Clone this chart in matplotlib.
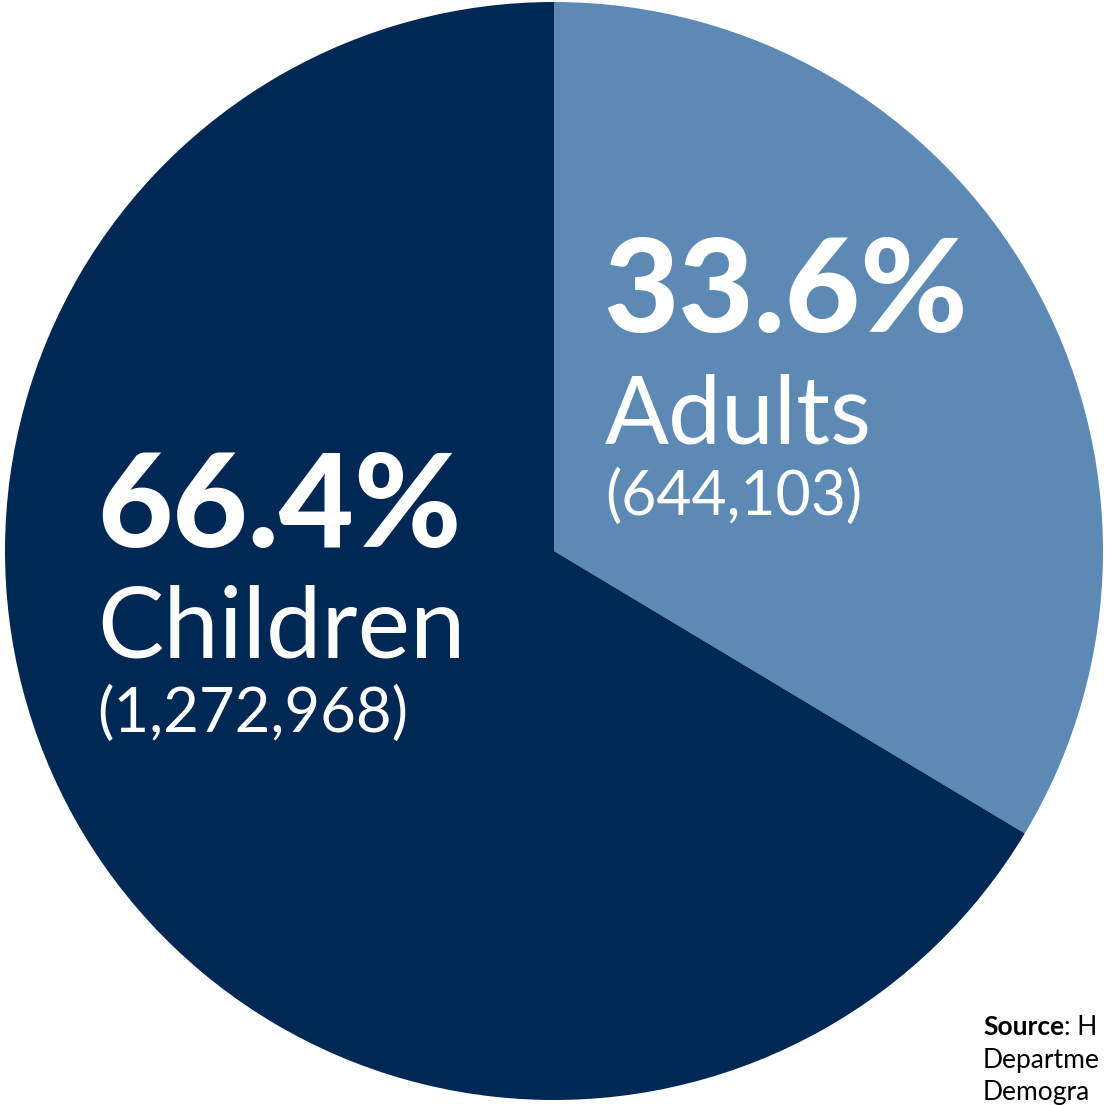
import matplotlib
matplotlib.use("Agg")
import matplotlib.pyplot as plt

# --- Data ---
labels = ["Adults", "Children"]
counts = [644103, 1272968]
pct_labels = ["33.6%", "66.4%"]
count_labels = ["(644,103)", "(1,272,968)"]
colors = ["#5C8AB5", "#002855"]
# source note, only the part visible in the original crop
source_lines = ["Source: H", "Departme", "Demogra"]

W, H = 1107, 1105
fig = plt.figure(figsize=(W / 100, H / 100), dpi=100)
ax = fig.add_axes([0, 0, 1, 1])

# pie, center / radius in pixel coords (y measured from bottom)
ax.pie(counts, colors=colors, startangle=90, counterclock=False,
       center=(554, H - 551), radius=549,
       wedgeprops=dict(linewidth=0, antialiased=True), frame=True)
ax.set_xlim(0, W)
ax.set_ylim(0, H)
ax.set_aspect("auto")
ax.axis("off")

renderer = fig.canvas.get_renderer()


def fit_text(x, y, s, width, weight="normal", color="white", family="Lato"):
    # left edge at x, baseline at y (image coords), scaled to width px
    t = ax.text(x, H - y, s, fontsize=50, fontweight=weight, color=color,
                family=family, ha="left", va="baseline")
    w = t.get_window_extent(renderer).width
    t.set_fontsize(50 * width / w)
    return t


# Adults label
fit_text(603, 332, pct_labels[0], 365, weight="black")
fit_text(605, 443, labels[0], 267)
fit_text(605, 515, count_labels[0], 257)

# Children label
fit_text(97, 547, pct_labels[1], 365, weight="black")
fit_text(97, 657, labels[1], 368)
fit_text(97, 732, count_labels[1], 311)

# source note
src_kw = dict(fontsize=19, color="black", family="Lato", ha="left", va="baseline")
t1 = ax.text(983, H - 1035, "Source", fontweight="bold", **src_kw)
x_end = t1.get_window_extent(renderer).x1
ax.text(x_end, H - 1035, source_lines[0][6:], **src_kw)
ax.text(983, H - 1068, source_lines[1], **src_kw)
ax.text(983, H - 1100, source_lines[2], **src_kw)

fig.savefig("out.png", dpi=100)
